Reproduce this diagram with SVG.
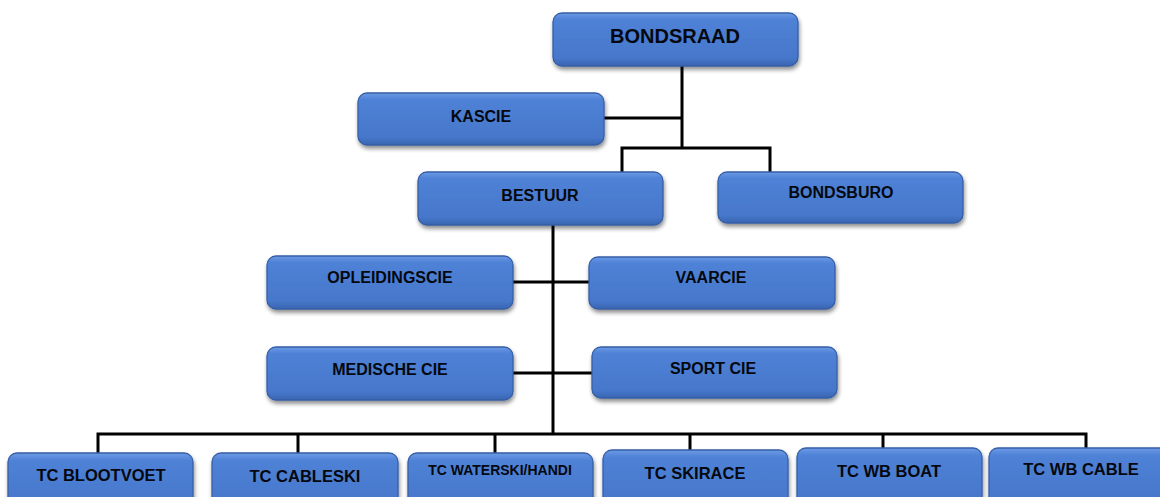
<svg xmlns="http://www.w3.org/2000/svg" width="1160" height="497" viewBox="0 0 1160 497">
<defs>
<linearGradient id="g" x1="0" y1="0" x2="0" y2="1">
<stop offset="0" stop-color="#6d9be6"/>
<stop offset="0.12" stop-color="#4f82d6"/>
<stop offset="0.85" stop-color="#4677cb"/>
<stop offset="1" stop-color="#3a64b0"/>
</linearGradient>
<filter id="sh" x="-10%" y="-20%" width="120%" height="150%">
<feGaussianBlur in="SourceAlpha" stdDeviation="2"/>
<feOffset dx="1" dy="3" result="b"/>
<feComponentTransfer><feFuncA type="linear" slope="0.45"/></feComponentTransfer>
<feMerge><feMergeNode/><feMergeNode in="SourceGraphic"/></feMerge>
</filter>
</defs>
<style>
.box{fill:url(#g);stroke:#365ea5;stroke-width:1.3;filter:url(#sh)}
.t{font-family:"Liberation Sans",Arial,sans-serif;font-weight:bold;font-size:16px;fill:#05080f;text-anchor:middle}
.big{font-size:20px}
.sm{font-size:14px}
.bt{font-size:16.5px}
.c{fill:none;stroke:#000;stroke-width:3}
</style>
<rect width="1160" height="497" fill="#fff"/>
<g id="connectors">
<path class="c" d="M682 66V148"/>
<path class="c" d="M604 118H682"/>
<path class="c" d="M622 172V148H770V172"/>
<path class="c" d="M553 225V434"/>
<path class="c" d="M513 282H589"/>
<path class="c" d="M513 373H592"/>
<path class="c" d="M98 453V434H1086V448"/>
<path class="c" d="M298 434V453"/>
<path class="c" d="M495 434V453"/>
<path class="c" d="M690 434V450"/>
<path class="c" d="M883 434V448"/>
</g>
<g id="bondsraad"><rect class="box" x="553" y="13" width="245" height="53" rx="9"/><text class="t big" x="675" y="43">BONDSRAAD</text></g>
<g id="kascie"><rect class="box" x="358" y="93" width="246" height="52" rx="9"/><text class="t" x="481" y="122">KASCIE</text></g>
<g id="bestuur"><rect class="box" x="418" y="172" width="245" height="53" rx="9"/><text class="t" x="540" y="201">BESTUUR</text></g>
<g id="bondsburo"><rect class="box" x="718" y="172" width="245" height="51" rx="9"/><text class="t" x="841" y="198">BONDSBURO</text></g>
<g id="opleidingscie"><rect class="box" x="267" y="256" width="246" height="53" rx="9"/><text class="t" x="390" y="283">OPLEIDINGSCIE</text></g>
<g id="vaarcie"><rect class="box" x="589" y="257" width="246" height="52" rx="9"/><text class="t" x="711" y="283">VAARCIE</text></g>
<g id="medische-cie"><rect class="box" x="267" y="347" width="246" height="53" rx="9"/><text class="t" x="390" y="375">MEDISCHE CIE</text></g>
<g id="sport-cie"><rect class="box" x="592" y="347" width="245" height="51" rx="9"/><text class="t" x="713" y="374">SPORT CIE</text></g>
<g id="tc-blootvoet"><rect class="box" x="8" y="453" width="185" height="60" rx="9"/><text class="t bt" x="101" y="481">TC BLOOTVOET</text></g>
<g id="tc-cableski"><rect class="box" x="212" y="453" width="186" height="60" rx="9"/><text class="t bt" x="305" y="482">TC CABLESKI</text></g>
<g id="tc-waterski"><rect class="box" x="408" y="453" width="185" height="60" rx="9"/><text class="t sm" x="500" y="475">TC WATERSKI/HANDI</text></g>
<g id="tc-skirace"><rect class="box" x="603" y="450" width="185" height="60" rx="9"/><text class="t bt" x="695" y="479">TC SKIRACE</text></g>
<g id="tc-wb-boat"><rect class="box" x="797" y="448" width="185" height="60" rx="9"/><text class="t bt" x="889" y="477">TC WB BOAT</text></g>
<g id="tc-wb-cable"><rect class="box" x="989" y="448" width="185" height="60" rx="9"/><text class="t bt" x="1081" y="475">TC WB CABLE</text></g>
</svg>
